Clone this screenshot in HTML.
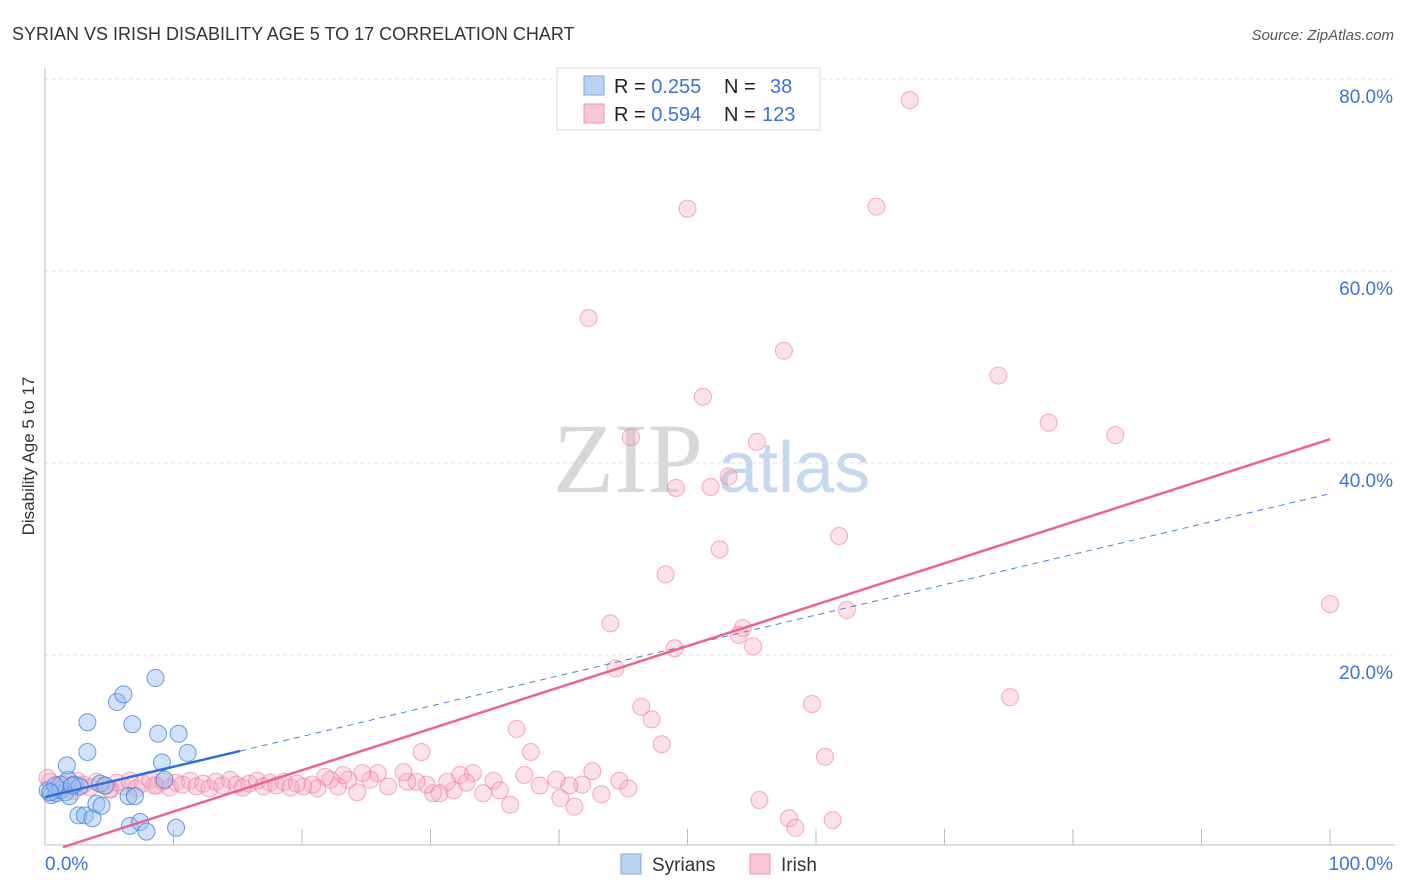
<!DOCTYPE html>
<html><head><meta charset="utf-8"><style>
body{margin:0;background:#fff;font-family:"Liberation Sans",sans-serif;}
#wrap{position:relative;width:1406px;height:892px;overflow:hidden;}
</style></head><body>
<div id="wrap">
<svg id="svg" width="1406" height="892" xmlns="http://www.w3.org/2000/svg">
<text x="12" y="40" font-size="18" fill="#333">SYRIAN VS IRISH DISABILITY AGE 5 TO 17 CORRELATION CHART</text>
<text x="1394" y="40" font-size="15" fill="#555" font-style="italic" text-anchor="end">Source: ZipAtlas.com</text>
<text x="34" y="456" font-size="17" fill="#333" text-anchor="middle" transform="rotate(-90 34 456)">Disability Age 5 to 17</text>
<g><text x="553" y="492" font-size="100" font-family="Liberation Serif,serif" fill="#d8d8d8">ZIP</text><text x="718" y="492" font-size="72" fill="#c5d8ef">atlas</text></g>
<g id="grid"></g><g id="axes"></g><g id="pts"></g><g id="lines"></g>
<g>
<rect x="557" y="68" width="263" height="62" fill="#fff" stroke="#ddd"/>
<rect x="584" y="76" width="20" height="19" fill="#b9d3f3" stroke="#7aa7e6"/>
<rect x="584" y="104" width="20" height="19" fill="#f9c6d5" stroke="#ee93b0"/>
<text x="614" y="93" font-size="20" fill="#222">R = <tspan fill="#3a74d6">0.255</tspan><tspan x="724">N = </tspan><tspan x="770" fill="#3a74d6">38</tspan></text>
<text x="614" y="121" font-size="20" fill="#222">R = <tspan fill="#3a74d6">0.594</tspan><tspan x="724">N = </tspan><tspan x="762" fill="#3a74d6">123</tspan></text>
</g>
<g>
<rect x="621" y="854" width="20" height="20" fill="#b9d3f3" stroke="#7aa7e6"/><text x="652" y="871" font-size="19" fill="#333">Syrians</text>
<rect x="750" y="854" width="20" height="20" fill="#f9c6d5" stroke="#ee93b0"/><text x="781" y="871" font-size="19" fill="#333">Irish</text>
</g>
</svg></div>
<script>
const yTicks=[20,40,60,80];
const yTickLabels=["20.0%","40.0%","60.0%","80.0%"];
const xTicks=[0,10,20,30,40,50,60,70,80,90,100];
const syrX=[0.2,0.5,0.9,1.2,1.6,1.9,1.8,2.3,2.7,1.7,3.3,3.3,2.6,3.1,3.7,4.0,4.4,5.6,6.1,6.8,8.6,8.8,10.4,11.1,9.1,9.3,6.5,7.0,6.6,7.4,7.9,10.2,4.3,4.7,1.2,0.8,0.4,2.1];
const syrY=[5.9,5.4,5.6,5.9,5.7,5.3,7.0,6.5,6.3,8.5,9.9,13.0,3.3,3.3,3.0,4.5,4.3,15.1,15.9,12.8,17.6,11.8,11.8,9.8,8.8,7.0,5.3,5.3,2.2,2.6,1.6,2.0,6.6,6.4,6.5,6.4,5.7,6.4];
const irX=[67.3,50.0,64.7,42.3,57.5,51.2,74.2,78.1,83.3,45.6,55.4,53.2,49.1,51.8,52.5,61.8,48.3,100,62.4,44.0,54.3,54.0,49.0,55.1,44.4,75.1,46.4,47.2,59.7,36.7,48.0,29.3,37.8,60.7,55.6,57.9,58.4,61.3,
37.3,36.2,41.2,43.3,42.6,44.7,45.4,40.1,41.8,40.8,38.5,39.8,34.1,34.9,35.4,33.3,32.3,32.8,31.8,31.3,30.7,30.2,29.7,28.9,28.2,27.9,26.7,25.9,25.3,24.7,24.3,23.6,23.2,22.8,22.2,21.8,21.2,20.8,20.1,
0.4,0.9,1.4,1.9,2.5,3.0,3.5,4.0,4.6,5.1,5.6,6.1,6.6,7.1,7.6,8.2,8.7,9.2,9.7,10.2,10.7,11.3,11.8,12.3,12.8,13.3,13.8,14.4,14.9,15.4,15.9,16.5,17.0,17.5,18.0,18.6,19.1,19.6,0.2,2.2,5.0,8.5];
const irY=[77.8,66.5,66.7,55.1,51.7,46.9,49.1,44.2,42.9,42.7,42.2,38.6,37.4,37.5,31.0,32.4,28.4,25.3,24.7,23.3,22.8,22.1,20.7,20.9,18.6,15.6,14.6,13.3,14.9,12.3,10.7,9.9,9.9,9.4,4.9,3.0,2.0,2.8,
7.5,4.4,4.2,5.5,7.9,6.9,6.1,5.1,6.5,6.4,6.4,7.0,5.6,6.9,5.9,7.7,7.5,6.7,5.9,6.8,5.6,5.6,6.5,6.8,6.8,7.8,6.3,7.7,7.0,7.7,5.7,7.0,7.5,6.3,7.0,7.3,6.1,6.5,6.3,
6.8,6.2,6.6,6.0,6.9,6.5,6.2,6.8,6.4,6.0,6.7,6.3,6.9,6.1,6.6,7.0,6.4,6.8,6.2,6.7,6.5,6.9,6.3,6.6,6.1,6.8,6.4,7.0,6.5,6.2,6.6,6.9,6.3,6.7,6.4,6.8,6.2,6.6,7.2,5.8,6.0,6.4];
const syrTrend=[5.2,36.8], syrSolidEnd=15.2;
const irTrend=[-0.62,0.431], irStart=1.4;
const X0=45,X1=1330,Y0=847,YPER=9.6;
const sx=v=>X0+(X1-X0)*v/100, sy=v=>Y0-v*YPER;
const NS='http://www.w3.org/2000/svg';
function mk(tag,attrs,parent){const e=document.createElementNS(NS,tag);for(const k in attrs)e.setAttribute(k,attrs[k]);document.getElementById(parent).appendChild(e);return e;}
yTicks.forEach((t,i)=>{
 const g=mk('line',{x1:45,x2:1395,y1:sy(t),y2:sy(t),stroke:'#e2e2e2','stroke-dasharray':'4,3'},'grid');
 
 
 const l=mk('text',{x:1393,y:sy(t)+24,'font-size':19,fill:'#3a74d6','text-anchor':'end'},'axes');
 l.textContent=yTickLabels[i];
 
 
});
const ax=mk('line',{x1:45,x2:1395,y1:845,y2:845,stroke:'#bbb'},'axes');


const ay=mk('line',{x1:45,x2:45,y1:68,y2:845,stroke:'#bbb'},'axes');


xTicks.forEach(t=>{if(t===0)return;
 const k=mk('line',{x1:sx(t),x2:sx(t),y1:829,y2:845,stroke:'#bbb'},'axes');
 
 });
const xl=mk('text',{x:45,y:870,'font-size':19,fill:'#3a74d6'},'axes');xl.textContent='0.0%';


const xr=mk('text',{x:1393,y:870,'font-size':19,fill:'#3a74d6','text-anchor':'end'},'axes');xr.textContent='100.0%';


irX.forEach((x,i)=>{const c=mk('circle',{cx:sx(x),cy:sy(irY[i]),r:8.5,fill:'rgba(246,170,195,0.35)',stroke:'rgba(234,120,158,0.6)','stroke-width':1},'pts');
 
 });
syrX.forEach((x,i)=>{const c=mk('circle',{cx:sx(x),cy:sy(syrY[i]),r:8.5,fill:'rgba(150,190,240,0.45)',stroke:'rgba(58,116,214,0.7)','stroke-width':1},'pts');
 
 });
const sv=x=>syrTrend[0]+(syrTrend[1]-syrTrend[0])*x/100;
const l1=mk('line',{x1:sx(0),y1:sy(sv(0)),x2:sx(syrSolidEnd),y2:sy(sv(syrSolidEnd)),stroke:'#2f6fd6','stroke-width':2.5},'lines');


const l2=mk('line',{x1:sx(syrSolidEnd),y1:sy(sv(syrSolidEnd)),x2:sx(100),y2:sy(sv(100)),stroke:'#4a82d8','stroke-width':1,'stroke-dasharray':'6,5'},'lines');


const iv=x=>irTrend[0]+irTrend[1]*x;
const l3=mk('line',{x1:sx(irStart),y1:sy(iv(irStart)),x2:sx(100),y2:sy(iv(100)),stroke:'#e8658f','stroke-width':2.5},'lines');


</script>
</body></html>
